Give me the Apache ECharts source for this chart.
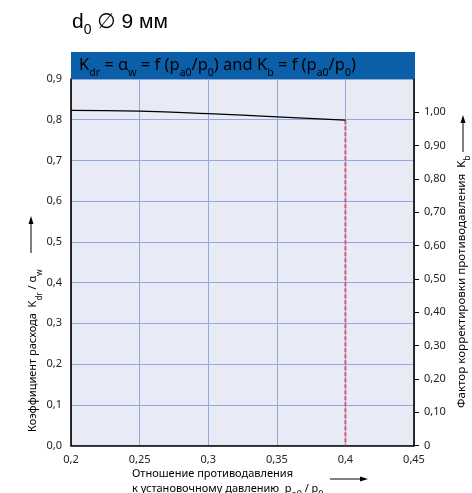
<!DOCTYPE html>
<html>
<head>
<meta charset="utf-8">
<script src="https://cdn.jsdelivr.net/npm/echarts@6/dist/echarts.min.js"></script>
<style>
html,body{margin:0;padding:0;background:#fff;}
#chart{width:472px;height:493px;}
</style>
</head>
<body>
<div id="chart"></div>
<script>
// ---- data ----
const xValues = [0.2, 0.25, 0.3, 0.35, 0.4];
const kdrValues = [0.823, 0.821, 0.815, 0.807, 0.799];
const cutoffX = 0.4;
const cutoffTop = 0.799;
const rightTickValues = [0, 0.1, 0.2, 0.3, 0.4, 0.5, 0.6, 0.7, 0.8, 0.9, 1.0];

const FONT = '"Noto Sans", "Open Sans", sans-serif';
const chart = echarts.init(document.getElementById('chart'), null, {renderer: 'canvas'});

const kdrData = xValues.map((x, i) => [x, kdrValues[i]]);
const cutData = [[cutoffX, cutoffTop], [cutoffX, 0]];

const gridBlue = '#93a9dc';
const subStyle = (size, col) => ({fontSize: size, fontFamily: FONT, color: col, verticalAlign: 'bottom', padding: [0, 0, -3, 0]});

chart.setOption({
  animation: false,
  grid: {left: 71, top: 79, width: 343, height: 366.5, show: true, backgroundColor: '#e8eaf6', borderWidth: 0},
  xAxis: {
    type: 'value', min: 0.2, max: 0.45, interval: 0.05,
    axisLine: {show: true, lineStyle: {color: '#000', width: 1.6}},
    axisTick: {show: false},
    splitLine: {show: true, lineStyle: {color: gridBlue, width: 1}},
    axisLabel: {fontFamily: FONT, fontSize: 11, color: '#222', margin: 9,
      formatter: v => parseFloat(v.toFixed(2)).toString().replace('.', ',')}
  },
  yAxis: [{
    type: 'value', min: 0, max: 0.9, interval: 0.1, position: 'left',
    axisLine: {show: true, lineStyle: {color: '#000', width: 1.6}},
    axisTick: {show: false},
    splitLine: {show: true, lineStyle: {color: gridBlue, width: 1}},
    axisLabel: {fontFamily: FONT, fontSize: 11, color: '#222', margin: 9,
      formatter: v => v.toFixed(1).replace('.', ',')}
  }, {
    type: 'value', min: 0, max: 1.1, interval: 0.1, position: 'right',
    axisLine: {show: true, lineStyle: {color: '#000', width: 1.6}},
    axisTick: {show: true, inside: false, length: 5, lineStyle: {color: '#000', width: 1}, customValues: rightTickValues},
    splitLine: {show: false},
    axisLabel: {fontFamily: FONT, fontSize: 11, color: '#222', margin: 10, customValues: rightTickValues,
      formatter: v => v === 0 ? '0' : v.toFixed(2).replace('.', ',')}
  }],
  series: [{
    type: 'line', data: kdrData, yAxisIndex: 0, smooth: true, symbol: 'none',
    lineStyle: {color: '#000', width: 1.2}, z: 5
  }, {
    type: 'line', data: cutData, yAxisIndex: 0, symbol: 'none',
    lineStyle: {color: '#dc5578', width: 2, type: [4, 2]}, z: 4
  }],
  graphic: [
    {type: 'text', left: 72, top: 12, style: {
      text: '{a|d}{b|0}{a| ∅ 9 мм}',
      rich: {a: {fontSize: 21, fontFamily: '"Liberation Sans", "DejaVu Sans", sans-serif', color: '#111'},
             b: {fontSize: 14, fontFamily: '"Liberation Sans", sans-serif', color: '#111', verticalAlign: 'bottom', padding: [0, 0, -4, 0]}}
    }},
    {type: 'rect', shape: {x: 71, y: 52, width: 344, height: 27}, style: {fill: '#0b5ea8'}, z: 10},
    {type: 'text', x: 79, y: 65.5, z: 11, style: {
      text: '{n|K}{s|dr}{n| = α}{s|w}{n| = f (p}{s|a0}{n|/p}{s|0}{n|) and K}{s|b}{n| = f (p}{s|a0}{n|/p}{s|0}{n|)}',
      verticalAlign: 'middle', align: 'left',
      rich: {n: {fontSize: 16.5, fontFamily: FONT, color: '#fff', lineHeight: 20, verticalAlign: 'middle'},
             s: subStyle(10.5, '#fff')}
    }},
    // left axis name
    {type: 'text', x: 33, y: 432, rotation: Math.PI / 2, style: {
      text: '{n|Коэффициент расхода  K}{s|dr}{n| / α}{s|w}',
      align: 'left', verticalAlign: 'middle',
      rich: {n: {fontSize: 11, fontFamily: FONT, color: '#222', lineHeight: 15, verticalAlign: 'middle'},
             s: subStyle(8, '#222')}
    }},
    {type: 'line', shape: {x1: 31, y1: 253, x2: 31, y2: 222}, style: {stroke: '#000', lineWidth: 1}},
    {type: 'polygon', shape: {points: [[31, 216], [28.5, 224], [33.5, 224]]}, style: {fill: '#000'}},
    // right axis name
    {type: 'text', x: 462, y: 408, rotation: Math.PI / 2, style: {
      text: '{n|Фактор корректировки противодавления  K}{s|b}',
      align: 'left', verticalAlign: 'middle',
      rich: {n: {fontSize: 11.6, fontFamily: FONT, color: '#222', lineHeight: 15, verticalAlign: 'middle'},
             s: subStyle(8.5, '#222')}
    }},
    {type: 'line', shape: {x1: 463, y1: 152, x2: 463, y2: 121}, style: {stroke: '#000', lineWidth: 1}},
    {type: 'polygon', shape: {points: [[463, 115], [460.5, 123], [465.5, 123]]}, style: {fill: '#000'}},
    // x axis name
    {type: 'text', x: 132, y: 466, style: {
      text: '{n|Отношение противодавления}\n{n|к установочному давлению  p}{s|a0}{n| / p}{s|0}',
      align: 'left', verticalAlign: 'top',
      rich: {n: {fontSize: 11, fontFamily: FONT, color: '#222', lineHeight: 15, verticalAlign: 'middle'},
             s: subStyle(9, '#222')}
    }},
    {type: 'line', shape: {x1: 330, y1: 479, x2: 362, y2: 479}, style: {stroke: '#000', lineWidth: 1}},
    {type: 'polygon', shape: {points: [[368, 479], [360, 476.5], [360, 481.5]]}, style: {fill: '#000'}}
  ]
});
</script>
</body>
</html>
